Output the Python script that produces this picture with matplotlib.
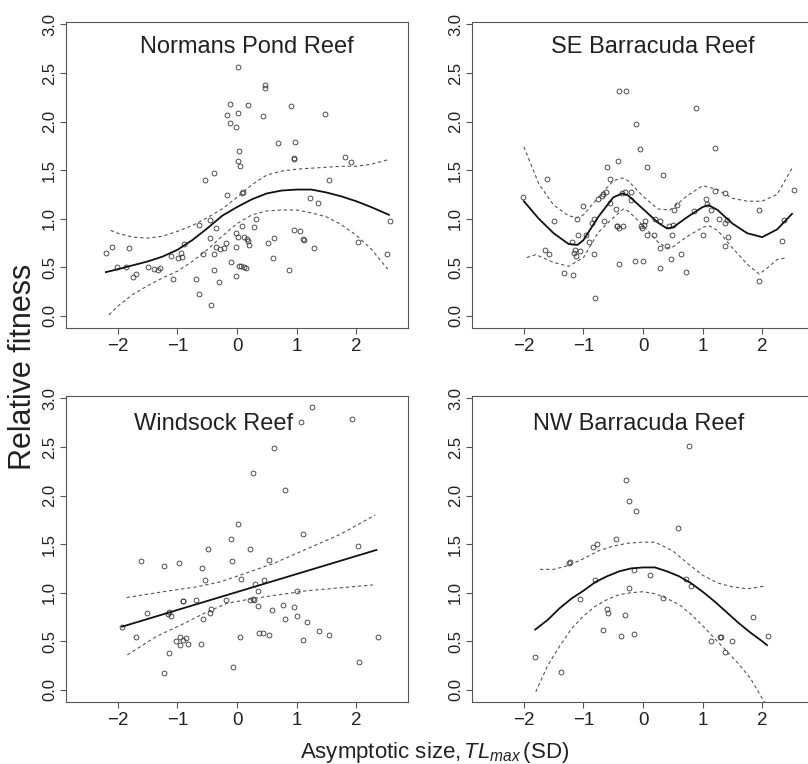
import matplotlib
matplotlib.use("Agg")
import matplotlib.pyplot as plt

plt.rcParams['font.family'] = ['Liberation Sans', 'DejaVu Sans']
plt.rcParams['mathtext.fontset'] = 'custom'
plt.rcParams['mathtext.rm'] = 'Liberation Sans'
plt.rcParams['mathtext.it'] = 'Liberation Sans:italic'

# ---- Normans Pond Reef ----
np_x = [-2.20, -2.10, -2.02, -1.86, -1.82, -1.75, -1.69, -1.50, -1.40, -1.33, -1.30,
        -1.11, -1.08, -0.99, -0.94, -0.92, -0.89, -0.69, -0.63, -0.63, -0.57, -0.54,
        -0.46, -0.46, -0.43, -0.38, -0.38, -0.38, -0.35, -0.35, -0.30, -0.29, -0.22,
        -0.18, -0.16, -0.16, -0.12, -0.11, -0.10, -0.02, -0.02, -0.01, -0.01, 0.01,
        0.02, 0.02, 0.02, 0.04, 0.05, 0.04, 0.07, 0.08, 0.10, 0.08, 0.11, 0.12, 0.15,
        0.16, 0.19, 0.19, 0.20, 0.29, 0.32, 0.44, 0.47, 0.47, 0.52, 0.61, 0.62, 0.68,
        0.87, 0.90, 0.95, 0.96, 0.96, 0.98, 1.06, 1.11, 1.12, 1.22, 1.29, 1.36, 1.48,
        1.54, 1.82, 1.92, 2.03, 2.51, 2.56]
np_y = [0.65, 0.71, 0.50, 0.50, 0.70, 0.40, 0.43, 0.50, 0.48, 0.47, 0.49,
        0.62, 0.38, 0.60, 0.65, 0.61, 0.74, 0.38, 0.94, 0.23, 0.64, 1.40,
        0.99, 0.80, 0.11, 1.47, 0.64, 0.47, 0.90, 0.71, 0.35, 0.69, 0.70,
        0.75, 1.24, 2.07, 2.18, 1.99, 0.55, 1.94, 0.85, 0.71, 0.41, 2.56,
        2.09, 0.81, 1.59, 1.70, 1.54, 0.51, 0.51, 1.26, 1.27, 0.93, 0.81, 0.50, 0.49,
        0.79, 2.17, 0.77, 0.73, 0.91, 1.00, 2.06, 2.35, 2.38, 0.75, 0.60, 0.80, 1.78,
        0.47, 2.16, 1.62, 1.61, 0.88, 1.79, 0.87, 0.79, 0.78, 1.21, 0.70, 1.16, 2.08,
        1.40, 1.64, 1.58, 0.76, 0.64, 0.98]
np_fit_x = [-2.2, -2.0, -1.75, -1.5, -1.25, -1.0, -0.75, -0.5, -0.25, 0.0, 0.25, 0.5,
            0.75, 1.0, 1.25, 1.5, 1.75, 2.0, 2.25, 2.55]
np_fit_y = [0.45, 0.48, 0.52, 0.56, 0.61, 0.68, 0.78, 0.90, 1.03, 1.12, 1.20, 1.26,
            1.29, 1.30, 1.30, 1.27, 1.23, 1.18, 1.12, 1.04]
np_hi_x = [-2.12, -2.0, -1.75, -1.5, -1.25, -1.0, -0.75, -0.5, -0.25, 0.0, 0.25, 0.5,
           0.75, 1.0, 1.25, 1.5, 1.75, 2.0, 2.25, 2.55]
np_hi_y = [0.88, 0.85, 0.81, 0.80, 0.82, 0.87, 0.93, 1.01, 1.10, 1.22, 1.35, 1.45,
           1.49, 1.51, 1.52, 1.53, 1.54, 1.54, 1.56, 1.61]
np_lo_x = [-2.15, -2.0, -1.75, -1.5, -1.25, -1.0, -0.75, -0.5, -0.25, 0.0, 0.25, 0.5,
           0.75, 1.0, 1.25, 1.5, 1.75, 2.0, 2.25, 2.53]
np_lo_y = [0.01, 0.10, 0.22, 0.31, 0.39, 0.46, 0.56, 0.68, 0.82, 0.95, 1.04, 1.08,
           1.09, 1.09, 1.06, 1.02, 0.94, 0.83, 0.69, 0.48]

# ---- SE Barracuda Reef ----
se_x = [-2.01, -1.62, -1.64, -1.57, -1.50, -1.32, -1.20, -1.17, -1.16, -1.15, -1.12,
        -1.11, -1.09, -1.05, -1.00, -0.95, -0.90, -0.85, -0.82, -0.82, -0.80, -0.76,
        -0.69, -0.66, -0.67, -0.63, -0.61, -0.55, -0.55, -0.45, -0.44, -0.44, -0.42,
        -0.41, -0.40, -0.40, -0.35, -0.33, -0.31, -0.28, -0.21, -0.21, -0.13, -0.11,
        -0.05, -0.03, -0.01, 0.00, 0.02, 0.04, 0.06, 0.06, 0.18, 0.20, 0.29, 0.29,
        0.29, 0.34, 0.40, 0.43, 0.47, 0.48, 0.50, 0.52, 0.57, 0.64, 0.72, 0.85, 0.89,
        1.01, 1.06, 1.06, 1.07, 1.14, 1.21, 1.21, 1.27, 1.37, 1.38, 1.38, 1.41, 1.43,
        1.94, 1.94, 2.34, 2.36, 2.53]
se_y = [1.22, 1.41, 0.68, 0.64, 0.98, 0.44, 0.76, 0.42, 0.65, 0.68, 0.62,
        1.00, 0.83, 0.67, 1.13, 0.83, 0.76, 0.96, 1.00, 0.64, 0.18, 1.20,
        1.23, 0.98, 1.25, 1.28, 1.53, 1.16, 1.41, 1.10, 0.93, 0.92, 1.59,
        2.31, 0.90, 0.53, 1.26, 0.93, 1.27, 2.31, 1.28, 1.19, 0.56, 1.98,
        1.72, 0.93, 0.90, 0.56, 0.94, 0.98, 1.53, 0.83, 0.83, 1.00, 0.98, 0.70,
        0.49, 1.45, 0.72, 0.93, 0.59, 0.83, 0.94, 1.09, 1.14, 0.64, 0.45, 1.08, 2.14,
        0.83, 1.20, 1.00, 1.15, 1.09, 1.73, 1.29, 1.00, 0.72, 1.26, 0.96, 0.99, 0.81,
        1.09, 0.36, 0.77, 0.99, 1.30]
se_fit_x = [-2.0, -1.75, -1.5, -1.25, -1.1, -1.0, -0.75, -0.5, -0.35, -0.25, 0.0, 0.25,
            0.4, 0.5, 0.75, 1.0, 1.1, 1.25, 1.5, 1.75, 2.0, 2.25, 2.5]
se_fit_y = [1.18, 1.00, 0.85, 0.74, 0.73, 0.78, 1.02, 1.22, 1.26, 1.24, 1.10, 0.96,
            0.90, 0.91, 1.02, 1.12, 1.14, 1.09, 0.95, 0.85, 0.81, 0.89, 1.05]
se_hi_x = [-2.0, -1.75, -1.5, -1.25, -1.1, -1.0, -0.75, -0.5, -0.35, -0.25, 0.0, 0.25,
           0.45, 0.75, 1.0, 1.25, 1.5, 1.75, 2.0, 2.25, 2.5]
se_hi_y = [1.74, 1.36, 1.14, 1.03, 1.01, 1.04, 1.22, 1.39, 1.42, 1.39, 1.23, 1.10,
           1.09, 1.24, 1.34, 1.30, 1.21, 1.18, 1.18, 1.25, 1.52]
se_lo_x = [-1.95, -1.8, -1.5, -1.25, -1.0, -0.75, -0.5, -0.33, -0.25, 0.0, 0.25, 0.4,
           0.5, 0.75, 1.0, 1.1, 1.25, 1.5, 1.75, 1.95, 2.1, 2.25, 2.42]
se_lo_y = [0.60, 0.63, 0.55, 0.51, 0.60, 0.86, 1.01, 1.10, 1.08, 0.93, 0.76, 0.70,
           0.71, 0.82, 0.91, 0.93, 0.88, 0.70, 0.53, 0.43, 0.50, 0.58, 0.60]

# ---- Windsock Reef ----
ws_x = [-1.93, -1.69, -1.61, -1.51, -1.23, -1.23, -1.16, -1.14, -1.15, -1.10, -1.03,
        -0.97, -0.96, -0.95, -0.91, -0.90, -0.91, -0.86, -0.83, -0.69, -0.60, -0.59,
        -0.57, -0.54, -0.49, -0.46, -0.43, -0.19, -0.10, -0.08, -0.06, 0.01, 0.05,
        0.07, 0.21, 0.21, 0.26, 0.27, 0.28, 0.31, 0.35, 0.36, 0.37, 0.43, 0.46, 0.53,
        0.54, 0.59, 0.62, 0.77, 0.80, 0.81, 0.96, 1.00, 1.01, 1.08, 1.10, 1.10, 1.18,
        1.25, 1.37, 1.55, 1.93, 2.03, 2.04, 2.36]
ws_y = [0.65, 0.54, 1.33, 0.79, 1.27, 0.17, 0.78, 0.80, 0.38, 0.76, 0.50,
        1.31, 0.54, 0.46, 0.91, 0.91, 0.51, 0.53, 0.47, 0.92, 0.47, 1.25,
        0.73, 1.13, 1.45, 0.79, 0.83, 0.92, 1.55, 1.33, 0.24, 1.71, 0.54,
        1.14, 1.45, 0.92, 2.23, 0.93, 0.92, 1.09, 0.86, 1.02, 0.59, 0.59, 1.13, 1.34,
        0.56, 0.82, 2.49, 0.87, 0.73, 2.06, 0.85, 0.76, 1.02, 2.76, 1.60, 0.51, 0.70,
        2.91, 0.61, 0.56, 2.79, 1.48, 0.29, 0.54]
ws_fit_x = [-1.93, 2.34]
ws_fit_y = [0.65, 1.44]
ws_hi_x = [-1.85, -1.24, -0.68, -0.29, 0.05, 0.61, 1.17, 1.73, 2.32]
ws_hi_y = [0.95, 1.01, 1.06, 1.11, 1.18, 1.30, 1.45, 1.60, 1.80]
ws_lo_x = [-1.84, -1.35, -0.90, -0.51, -0.17, 0.27, 0.72, 1.17, 1.73, 2.28]
ws_lo_y = [0.36, 0.55, 0.68, 0.80, 0.89, 0.94, 0.98, 1.02, 1.05, 1.08]

# ---- NW Barracuda Reef ----
nw_x = [-1.81, -1.38, -1.24, -1.23, -1.05, -0.84, -0.77, -0.80, -0.68, -0.61, -0.58,
        -0.46, -0.37, -0.30, -0.28, -0.24, -0.23, -0.16, -0.15, -0.11, 0.11, 0.33,
        0.59, 0.72, 0.77, 0.81, 1.14, 1.29, 1.30, 1.37, 1.49, 1.84, 2.09]
nw_y = [0.34, 0.18, 1.31, 1.32, 0.94, 1.47, 1.50, 1.13, 0.62, 0.83, 0.79,
        1.55, 0.55, 0.77, 2.16, 1.94, 1.05, 1.23, 0.57, 1.84, 1.18, 0.95,
        1.67, 1.14, 2.51, 1.07, 0.50, 0.54, 0.54, 0.39, 0.50, 0.75, 0.55]
nw_fit_x = [-1.81, -1.6, -1.4, -1.2, -1.0, -0.8, -0.6, -0.4, -0.2, 0.0, 0.2, 0.4,
            0.6, 0.8, 1.0, 1.2, 1.4, 1.6, 1.8, 2.0, 2.08]
nw_fit_y = [0.62, 0.72, 0.84, 0.94, 1.02, 1.11, 1.17, 1.22, 1.25, 1.26, 1.26, 1.22,
            1.17, 1.10, 1.01, 0.91, 0.80, 0.69, 0.59, 0.50, 0.46]
nw_hi_x = [-1.73, -1.5, -1.25, -1.0, -0.75, -0.5, -0.25, 0.0, 0.2, 0.5, 0.75, 1.0,
           1.25, 1.5, 1.75, 2.06]
nw_hi_y = [1.24, 1.24, 1.28, 1.35, 1.43, 1.48, 1.51, 1.52, 1.52, 1.43, 1.30, 1.18,
           1.10, 1.06, 1.04, 1.07]
nw_lo_x = [-1.80, -1.6, -1.4, -1.2, -1.0, -0.8, -0.6, -0.4, -0.2, 0.0, 0.2, 0.4,
           0.6, 0.8, 1.0, 1.2, 1.4, 1.6, 1.8, 2.06]
nw_lo_y = [-0.02, 0.25, 0.45, 0.63, 0.76, 0.86, 0.93, 0.98, 1.00, 1.01, 0.99, 0.94,
           0.88, 0.78, 0.66, 0.53, 0.40, 0.27, 0.12, -0.15]

panels = [
    ("Normans Pond Reef", (0.17, 2.705), np_x, np_y, np_fit_x, np_fit_y,
     np_hi_x, np_hi_y, np_lo_x, np_lo_y),
    ("SE Barracuda Reef", (0.16, 2.705), se_x, se_y, se_fit_x, se_fit_y,
     se_hi_x, se_hi_y, se_lo_x, se_lo_y),
    ("Windsock Reef", (-0.40, 2.67), ws_x, ws_y, ws_fit_x, ws_fit_y,
     ws_hi_x, ws_hi_y, ws_lo_x, ws_lo_y),
    ("NW Barracuda Reef", (-0.08, 2.67), nw_x, nw_y, nw_fit_x, nw_fit_y,
     nw_hi_x, nw_hi_y, nw_lo_x, nw_lo_y),
]

x_ticks = [-2, -1, 0, 1, 2]
y_ticks = [0.0, 0.5, 1.0, 1.5, 2.0, 2.5, 3.0]

fig = plt.figure(figsize=(8.08, 7.64), dpi=100)

boxes = [
    (0.0817, 0.5707, 0.4233, 0.4005),
    (0.5842, 0.5707, 0.4233, 0.4005),
    (0.0817, 0.0812, 0.4233, 0.4005),
    (0.5842, 0.0812, 0.4233, 0.4005),
]

box_col = "#555555"
for rect, (name, tpos, px, py, fx, fy, hx, hy, lx, ly) in zip(boxes, panels):
    ax = fig.add_axes(rect)
    ax.plot(px, py, linestyle="none", marker="o", ms=3.5, mfc="none",
            mec="#333333", mew=0.6)
    ax.plot(fx, fy, color="#111111", lw=1.3)
    ax.plot(hx, hy, color="#555555", lw=0.8, dashes=(3, 2.5))
    ax.plot(lx, ly, color="#555555", lw=0.8, dashes=(3, 2.5))
    ax.text(tpos[0], tpos[1], name, ha="center", va="baseline", fontsize=17,
            color="#222222")

    ax.set_xlim(-2.87, 2.87)
    ax.set_ylim(-0.125, 3.025)
    ax.set_xticks(x_ticks)
    ax.set_yticks(y_ticks)
    ax.set_yticklabels([f"{v:.1f}" for v in y_ticks])
    ax.tick_params(axis="x", direction="out", length=4, width=0.8, color=box_col,
                   labelsize=13.5, pad=3.5, labelcolor="#222222")
    ax.tick_params(axis="y", direction="out", length=4, width=0.8, color=box_col,
                   labelsize=12, pad=2.5, labelrotation=90, labelcolor="#222222")
    for lab in ax.get_yticklabels():
        lab.set_va("center")
    for sp in ax.spines.values():
        sp.set_color(box_col)
        sp.set_linewidth(0.8)

fig.text(0.028, 0.52, "Relative fitness", rotation=90, ha="center", va="center",
         fontsize=22, color="#222222")
fig.text(0.538, 0.008, r"Asymptotic size,$\,TL_{max}\,$(SD)", ha="center",
         va="baseline", fontsize=16, color="#222222")

fig.savefig("out.png", dpi=100, facecolor="white")
